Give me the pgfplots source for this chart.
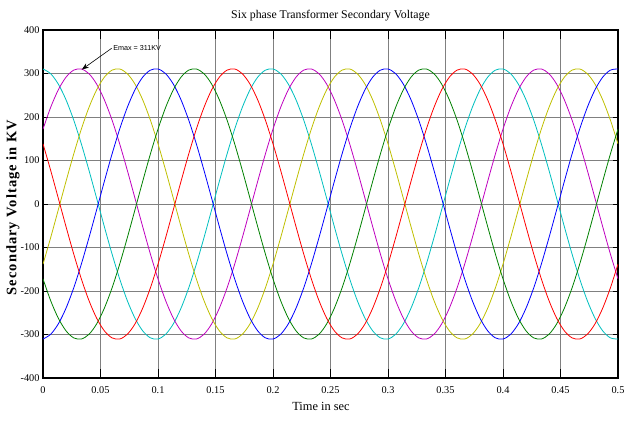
\documentclass[border=0pt]{standalone}
\usepackage{fontspec}
\setmainfont{Liberation Serif}
\newfontfamily\annfont{Liberation Sans}
\usepackage{pgfplots}
\pgfplotsset{compat=1.18}
\usepackage{pgfplotstable}
\usetikzlibrary{arrows.meta}

\definecolor{mblue}{rgb}{0,0,1}
\definecolor{mgreen}{rgb}{0,0.5,0}
\definecolor{mred}{rgb}{1,0,0}
\definecolor{mcyan}{rgb}{0,0.75,0.75}
\definecolor{mmag}{rgb}{0.75,0,0.75}
\definecolor{myel}{rgb}{0.75,0.75,0}

% six phase voltages, kV
\pgfplotstableread{
t c m y b g r
0 310.4 172.1 -138.3 -310.4 -172.1 138.3
0.00667 299.5 222.2 -77.3 -299.5 -222.2 77.3
0.01333 275.6 262.6 -13.0 -275.6 -262.6 13.0
0.02 239.6 291.5 51.9 -239.6 -291.5 -51.9
0.02667 193.2 307.7 114.5 -193.2 -307.7 -114.5
0.03333 138.3 310.4 172.1 -138.3 -310.4 -172.1
0.04 77.3 299.5 222.2 -77.3 -299.5 -222.2
0.04667 13.0 275.6 262.6 -13.0 -275.6 -262.6
0.05333 -51.9 239.6 291.5 51.9 -239.6 -291.5
0.06 -114.5 193.2 307.7 114.5 -193.2 -307.7
0.06667 -172.1 138.3 310.4 172.1 -138.3 -310.4
0.07333 -222.2 77.3 299.5 222.2 -77.3 -299.5
0.08 -262.6 13.0 275.6 262.6 -13.0 -275.6
0.08667 -291.5 -51.9 239.6 291.5 51.9 -239.6
0.09333 -307.7 -114.5 193.2 307.7 114.5 -193.2
0.1 -310.4 -172.1 138.3 310.4 172.1 -138.3
0.10667 -299.5 -222.2 77.3 299.5 222.2 -77.3
0.11333 -275.6 -262.6 13.0 275.6 262.6 -13.0
0.12 -239.6 -291.5 -51.9 239.6 291.5 51.9
0.12667 -193.2 -307.7 -114.5 193.2 307.7 114.5
0.13333 -138.3 -310.4 -172.1 138.3 310.4 172.1
0.14 -77.3 -299.5 -222.2 77.3 299.5 222.2
0.14667 -13.0 -275.6 -262.6 13.0 275.6 262.6
0.15333 51.9 -239.6 -291.5 -51.9 239.6 291.5
0.16 114.5 -193.2 -307.7 -114.5 193.2 307.7
0.16667 172.1 -138.3 -310.4 -172.1 138.3 310.4
0.17333 222.2 -77.3 -299.5 -222.2 77.3 299.5
0.18 262.6 -13.0 -275.6 -262.6 13.0 275.6
0.18667 291.5 51.9 -239.6 -291.5 -51.9 239.6
0.19333 307.7 114.5 -193.2 -307.7 -114.5 193.2
0.2 310.4 172.1 -138.3 -310.4 -172.1 138.3
0.20667 299.5 222.2 -77.3 -299.5 -222.2 77.3
0.21333 275.6 262.6 -13.0 -275.6 -262.6 13.0
0.22 239.6 291.5 51.9 -239.6 -291.5 -51.9
0.22667 193.2 307.7 114.5 -193.2 -307.7 -114.5
0.23333 138.3 310.4 172.1 -138.3 -310.4 -172.1
0.24 77.3 299.5 222.2 -77.3 -299.5 -222.2
0.24667 13.0 275.6 262.6 -13.0 -275.6 -262.6
0.25333 -51.9 239.6 291.5 51.9 -239.6 -291.5
0.26 -114.5 193.2 307.7 114.5 -193.2 -307.7
0.26667 -172.1 138.3 310.4 172.1 -138.3 -310.4
0.27333 -222.2 77.3 299.5 222.2 -77.3 -299.5
0.28 -262.6 13.0 275.6 262.6 -13.0 -275.6
0.28667 -291.5 -51.9 239.6 291.5 51.9 -239.6
0.29333 -307.7 -114.5 193.2 307.7 114.5 -193.2
0.3 -310.4 -172.1 138.3 310.4 172.1 -138.3
0.30667 -299.5 -222.2 77.3 299.5 222.2 -77.3
0.31333 -275.6 -262.6 13.0 275.6 262.6 -13.0
0.32 -239.6 -291.5 -51.9 239.6 291.5 51.9
0.32667 -193.2 -307.7 -114.5 193.2 307.7 114.5
0.33333 -138.3 -310.4 -172.1 138.3 310.4 172.1
0.34 -77.3 -299.5 -222.2 77.3 299.5 222.2
0.34667 -13.0 -275.6 -262.6 13.0 275.6 262.6
0.35333 51.9 -239.6 -291.5 -51.9 239.6 291.5
0.36 114.5 -193.2 -307.7 -114.5 193.2 307.7
0.36667 172.1 -138.3 -310.4 -172.1 138.3 310.4
0.37333 222.2 -77.3 -299.5 -222.2 77.3 299.5
0.38 262.6 -13.0 -275.6 -262.6 13.0 275.6
0.38667 291.5 51.9 -239.6 -291.5 -51.9 239.6
0.39333 307.7 114.5 -193.2 -307.7 -114.5 193.2
0.4 310.4 172.1 -138.3 -310.4 -172.1 138.3
0.40667 299.5 222.2 -77.3 -299.5 -222.2 77.3
0.41333 275.6 262.6 -13.0 -275.6 -262.6 13.0
0.42 239.6 291.5 51.9 -239.6 -291.5 -51.9
0.42667 193.2 307.7 114.5 -193.2 -307.7 -114.5
0.43333 138.3 310.4 172.1 -138.3 -310.4 -172.1
0.44 77.3 299.5 222.2 -77.3 -299.5 -222.2
0.44667 13.0 275.6 262.6 -13.0 -275.6 -262.6
0.45333 -51.9 239.6 291.5 51.9 -239.6 -291.5
0.46 -114.5 193.2 307.7 114.5 -193.2 -307.7
0.46667 -172.1 138.3 310.4 172.1 -138.3 -310.4
0.47333 -222.2 77.3 299.5 222.2 -77.3 -299.5
0.48 -262.6 13.0 275.6 262.6 -13.0 -275.6
0.48667 -291.5 -51.9 239.6 291.5 51.9 -239.6
0.49333 -307.7 -114.5 193.2 307.7 114.5 -193.2
0.5 -310.4 -172.1 138.3 310.4 172.1 -138.3
}\volts

\begin{document}
\begin{tikzpicture}
\useasboundingbox (-43pt,-46pt) rectangle (581pt,378pt);
\begin{axis}[
    at={(0,0)}, anchor=south west,
    scale only axis, width=575pt, height=348pt,
    xmin=0, xmax=0.5, ymin=-400, ymax=400,
    xtick={0,0.05,0.1,0.15,0.2,0.25,0.3,0.35,0.4,0.45,0.5},
    xticklabels={0,0.05,0.1,0.15,0.2,0.25,0.3,0.35,0.4,0.45,0.5},
    ytick={-400,-300,-200,-100,0,100,200,300,400},
    scaled ticks=false,
    /pgf/number format/assume math mode=true,
    ticklabel style={font=\fontsize{10.3}{12}\selectfont},
    xticklabel style={yshift=-5pt},
    grid=major,
    major grid style={black!50, line width=0.6pt},
    axis line style={line width=1.3pt},
    tick align=inside,
    xtick style={black, line width=0.8pt, /pgfplots/major tick length=9pt},
    ytick style={black, line width=0.8pt, /pgfplots/major tick length=5pt},
    title={Six phase Transformer Secondary Voltage},
    title style={font=\fontsize{11.8}{14}\selectfont, anchor=base, yshift=-7pt, at={(axis description cs:0.5,1.0345)}},
    xlabel={Time in sec},
    xlabel style={font=\fontsize{12.4}{14}\selectfont, anchor=base, at={(axis description cs:0.4835,-0.092)}},
    ylabel={Secondary Voltage in KV},
    ylabel style={font=\fontsize{14.5}{17}\bfseries\addfontfeature{LetterSpace=7}, anchor=center, at={(axis description cs:-0.0522,0.49)}},
    every axis plot/.append style={line width=0.8pt, smooth, no markers},
]
\addplot[mcyan] table[x=t, y=c] {\volts};
\addplot[mmag]  table[x=t, y=m] {\volts};
\addplot[myel]  table[x=t, y=y] {\volts};
\addplot[mblue] table[x=t, y=b] {\volts};
\addplot[mgreen] table[x=t, y=g] {\volts};
\addplot[mred]  table[x=t, y=r] {\volts};
\draw[-{Stealth[length=7pt,width=5pt]}, line width=0.6pt] (axis cs:0.0597,358) -- (axis cs:0.0337,309);
\node[anchor=west, inner sep=0.5pt, font=\annfont\fontsize{7.2}{8}\selectfont] at (axis cs:0.0605,359) {Emax = 311KV};
\end{axis}
\end{tikzpicture}
\end{document}
